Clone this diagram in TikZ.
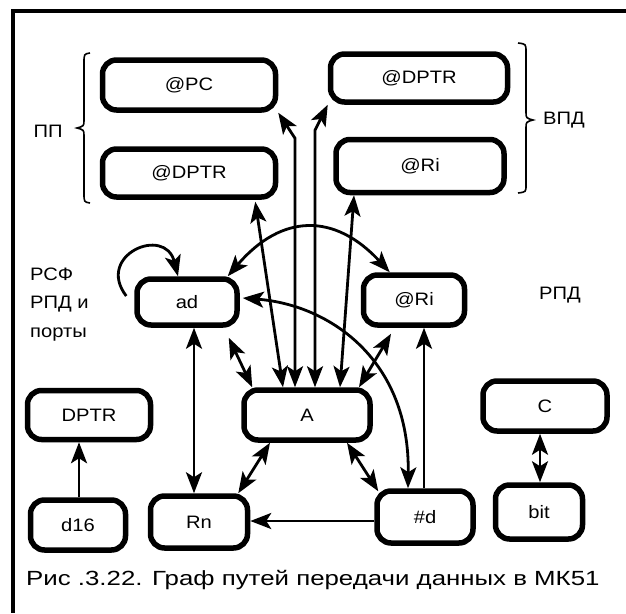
\documentclass[tikz,border=0pt]{standalone}
\usepackage{fontspec}
\setmainfont{Liberation Sans}[FakeStretch=1.12]
\newfontfamily\capfont{Liberation Sans}[FakeStretch=1.26]
\usetikzlibrary{arrows.meta,calc}
\tikzset{
  box/.style={draw, line width=5.5pt, rounded corners=14pt, inner sep=0pt, font=\fontsize{18}{21}\selectfont},
  lab/.style={font=\fontsize{18}{21}\selectfont, inner sep=0pt},
  con/.style={line width=2.8pt},
  dbl/.style={con, {Stealth[length=21pt,width=16pt,inset=5pt]}-{Stealth[length=21pt,width=16pt,inset=5pt]}},
  one/.style={con, -{Stealth[length=21pt,width=16pt,inset=5pt]}},
  bracestyle/.style={line width=1.6pt},
}
\begin{document}
\begin{tikzpicture}[x=1pt,y=-1pt]
\useasboundingbox (0,0) rectangle (626,613);
\fill[white] (0,0) rectangle (626,613);
\draw[line width=4.5pt] (626,11) -- (13,11) -- (13,613);

\node[box, minimum width=173pt, minimum height=50pt] (pc) at (189,85) {@PC};
\node[box, minimum width=173pt, minimum height=48pt] (dptrL) at (189,173) {@DPTR};
\node[box, minimum width=177pt, minimum height=48pt] (dptrR) at (419,78) {@DPTR};
\node[box, minimum width=168pt, minimum height=53pt] (riT) at (420,166) {@Ri};
\node[box, minimum width=100pt, minimum height=46pt] (ad) at (187,302) {ad};
\node[box, minimum width=101pt, minimum height=50pt] (riM) at (414,300) {@Ri};
\node[box, minimum width=126pt, minimum height=50pt] (A) at (307,415) {A};
\node[box, minimum width=123pt, minimum height=49pt] (dptr) at (89,415) {DPTR};
\node[box, minimum width=95pt, minimum height=50pt] (d16) at (78,525) {d16};
\node[box, minimum width=97pt, minimum height=52pt] (rn) at (199,522) {Rn};
\node[box, minimum width=96pt, minimum height=52pt] (hd) at (425,517) {\#d};
\node[box, minimum width=124pt, minimum height=50pt] (C) at (545,406) {C};
\node[box, minimum width=87pt, minimum height=54pt] (bit) at (539,512) {bit};

\node[lab] (pp) at (48,131) {ПП};
\node[lab] (vpd) at (564,120) {ВПД};
\node[lab] (rpd) at (560,295) {РПД};
\node[lab, anchor=base west] (rsf) at (30,280) {РСФ};
\node[lab, anchor=base west] (rpdi) at (30,308.5) {РПД и};
\node[lab, anchor=base west] (ports) at (30,337) {порты};

\node[inner sep=0pt, anchor=base west, font=\capfont\fontsize{20.5}{24}\selectfont] (cap) at (26,585) {Рис .3.22. Граф путей передачи данных в МК51};

\draw[bracestyle] (90,53) .. controls (84,54) .. (84,63) -- (84,120) .. controls (84,126) .. (77,128) .. controls (84,130) .. (84,136) -- (84,193) .. controls (84,202) .. (90,203);
\draw[bracestyle] (518,43) .. controls (526,44) .. (526,52) -- (526,112) .. controls (526,118) .. (533,120) .. controls (526,122) .. (526,128) -- (526,185) .. controls (526,192) .. (518,193);

\draw[dbl] ($(A.north)+(-12,0)$) -- ++(0,-249) -- (pc.south east);
\draw[dbl] ($(A.north)+(8,0)$) -- ++(0,-257) -- (dptrR.south west);
\draw[dbl] ($(dptrL.south east)+(-23,2)$) -- ($(A.north)+(-24,0)$);
\draw[dbl] ($(riT.south)+(-66,0)$) -- ($(A.north)+(33,0)$);
\draw[dbl] ($(ad.north east)+(-12,0)$) .. controls (282,213) and (335,213) .. ($(riM.north west)+(29,0)$);
\draw[dbl] ($(ad.east)+(3,-4)$) .. controls (330,305) and (410,360) .. ($(hd.north)+(-17,0)$);
\draw[one] ($(hd.north)+(-1,0)$) -- ($(riM.south)+(10,0)$);
\draw[dbl] ($(riM.south)+(-23,6)$) -- ($(A.north)+(52,0)$);
\draw[dbl] ($(ad.south east)+(-11,10)$) -- ($(A.north west)+(11,0)$);
\draw[dbl] ($(ad.south)+(7,0)$) -- ($(rn.north)+(-5,0)$);
\draw[dbl] ($(A.south)+(-37,0)$) -- ($(rn.north east)+(-12,0)$);
\draw[dbl] ($(A.south)+(40,0)$) -- ($(hd.north west)+(4,3)$);
\draw[one] ($(hd.west)+(0,4)$) -- ($(rn.east)+(0,-1)$);
\draw[one] ($(d16.north)+(1,0)$) -- ($(dptr.south)+(-10,0)$);
\draw[dbl] ($(C.south)+(-5,0)$) -- ($(bit.north)+(1,0)$);
\draw[one] ($(ad.west)+(-8,-6)$) .. controls (95,255) and (165,225) .. ($(ad.north)+(-9,0)$);
\end{tikzpicture}
\end{document}
